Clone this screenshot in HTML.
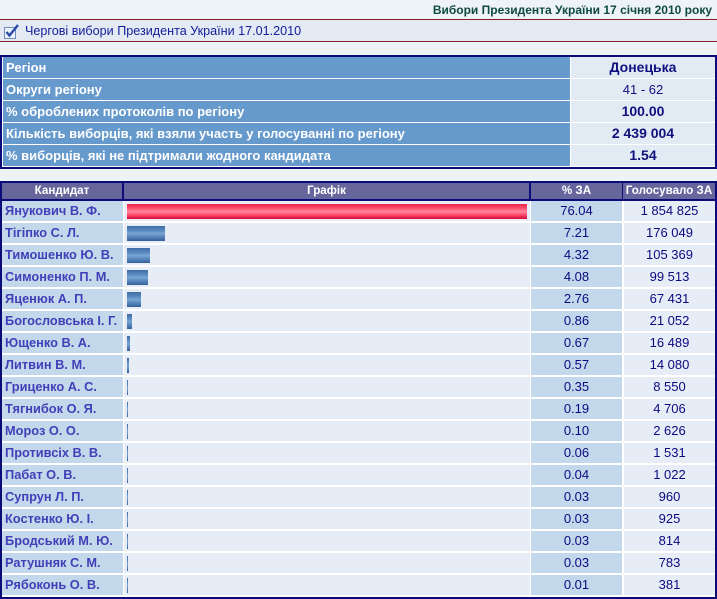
<!DOCTYPE html>
<html><head><meta charset="utf-8">
<style>
*{margin:0;padding:0;box-sizing:border-box}
html,body{width:717px;height:599px;overflow:hidden;background:#eef3f8;font-family:"Liberation Sans","DejaVu Sans",sans-serif}
.abs{position:absolute}
#title{position:absolute;right:5px;top:3px;font-size:12px;font-weight:bold;color:#0f4a42;white-space:nowrap;line-height:14px}
#bar{position:absolute;left:0;top:19px;width:717px;height:23px;border-top:1px solid #8a1c22;border-bottom:1px solid #8a1c22;background:#e4eaf3}
#bar .t{position:absolute;left:25px;top:3px;font-size:12.6px;color:#14209a;line-height:16px;white-space:nowrap}
#info{position:absolute;left:0;top:55px;width:717px;height:114px;border:2px solid #0c0c78;background:#fff}
.il{position:absolute;left:1px;width:567px;height:21px;background:#6699cc;color:#fff;font-weight:bold;font-size:13px;line-height:21px;padding-left:3px;white-space:nowrap}
.ir{position:absolute;left:569px;width:144px;height:21px;background:#e2eaf4;color:#10107e;text-align:center;font-size:14px;font-weight:bold;line-height:21px}
#cand{position:absolute;left:0;top:181px;width:717px;height:418px;border:2px solid #0c0c78;background:#fff}
#hdr{position:absolute;left:0;top:0;width:713px;height:18px;background:#0c0c78}
.h{position:absolute;top:0;height:16px;background:#66669c;color:#fff;font-weight:bold;font-size:11.6px;line-height:16px;text-align:center;white-space:nowrap}
.r{position:absolute;left:0;width:713px;height:20px}
.c{position:absolute;top:0;height:20px;line-height:20px;white-space:nowrap}
.n{left:0;width:121px;background:#c4d8ec;color:#4040b8;font-weight:bold;font-size:12.8px;padding-left:3px}
.g{left:122px;width:406px;background:#e7edf6}
.p{left:529px;width:91px;background:#c4d8ec;text-align:center;color:#0a0a80;font-size:13px}
.v{left:622px;width:91px;background:#e7edf6;text-align:center;color:#0a0a80;font-size:13px}
.b{position:absolute;left:3px;top:3px;height:15px;background:linear-gradient(#3f6da6,#5e8ec4 35%,#7aa6d2 50%,#5a8ac0 70%,#35609a)}
.red{background:linear-gradient(#f0204a,#ff5c78 35%,#ff8aa0 50%,#ff5070 70%,#d8083a)}
</style></head><body>
<div id="title">Вибори Президента України 17 січня 2010 року</div>
<div id="bar">
<svg class="abs" style="left:3px;top:3px" width="18" height="16" viewBox="0 0 18 16">
<rect x="1.5" y="4.5" width="11" height="11" fill="#eef2fa" stroke="#6f8fc0"/>
<path d="M3.5 9 L6.5 12.5 L15 2" fill="none" stroke="#2a4aa8" stroke-width="2.4"/>
</svg>
<div class="t">Чергові вибори Президента України 17.01.2010</div>
</div>

<div id="info">
<div class="il" style="top:0">Регіон</div><div class="ir" style="top:0">Донецька</div>
<div class="il" style="top:22px">Округи регіону</div><div class="ir" style="top:22px;font-weight:normal;font-size:13px">41 - 62</div>
<div class="il" style="top:44px">% оброблених протоколів по регіону</div><div class="ir" style="top:44px">100.00</div>
<div class="il" style="top:66px">Кількість виборців, які взяли участь у голосуванні по регіону</div><div class="ir" style="top:66px">2 439 004</div>
<div class="il" style="top:88px">% виборців, які не підтримали жодного кандидата</div><div class="ir" style="top:88px">1.54</div>
</div>

<div id="cand">
<div id="hdr">
<div class="h" style="left:0;width:120px">Кандидат</div>
<div class="h" style="left:122px;width:405px">Графік</div>
<div class="h" style="left:529px;width:91px">% ЗА</div>
<div class="h" style="left:621px;width:92px">Голосувало ЗА</div>
</div>
<div class="r" style="top:18px"><div class="c n">Янукович В. Ф.</div><div class="c g"><div class="b red" style="width:400px"></div></div><div class="c p">76.04</div><div class="c v">1 854 825</div></div>
<div class="r" style="top:40px"><div class="c n">Тігіпко С. Л.</div><div class="c g"><div class="b" style="width:38px"></div></div><div class="c p">7.21</div><div class="c v">176 049</div></div>
<div class="r" style="top:62px"><div class="c n">Тимошенко Ю. В.</div><div class="c g"><div class="b" style="width:23px"></div></div><div class="c p">4.32</div><div class="c v">105 369</div></div>
<div class="r" style="top:84px"><div class="c n">Симоненко П. М.</div><div class="c g"><div class="b" style="width:21px"></div></div><div class="c p">4.08</div><div class="c v">99 513</div></div>
<div class="r" style="top:106px"><div class="c n">Яценюк А. П.</div><div class="c g"><div class="b" style="width:14px"></div></div><div class="c p">2.76</div><div class="c v">67 431</div></div>
<div class="r" style="top:128px"><div class="c n">Богословська І. Г.</div><div class="c g"><div class="b" style="width:5px"></div></div><div class="c p">0.86</div><div class="c v">21 052</div></div>
<div class="r" style="top:150px"><div class="c n">Ющенко В. А.</div><div class="c g"><div class="b" style="width:3px"></div></div><div class="c p">0.67</div><div class="c v">16 489</div></div>
<div class="r" style="top:172px"><div class="c n">Литвин В. М.</div><div class="c g"><div class="b" style="width:2px"></div></div><div class="c p">0.57</div><div class="c v">14 080</div></div>
<div class="r" style="top:194px"><div class="c n">Гриценко А. С.</div><div class="c g"><div class="b" style="width:1px"></div></div><div class="c p">0.35</div><div class="c v">8 550</div></div>
<div class="r" style="top:216px"><div class="c n">Тягнибок О. Я.</div><div class="c g"><div class="b" style="width:1px"></div></div><div class="c p">0.19</div><div class="c v">4 706</div></div>
<div class="r" style="top:238px"><div class="c n">Мороз О. О.</div><div class="c g"><div class="b" style="width:1px"></div></div><div class="c p">0.10</div><div class="c v">2 626</div></div>
<div class="r" style="top:260px"><div class="c n">Противсіх В. В.</div><div class="c g"><div class="b" style="width:1px"></div></div><div class="c p">0.06</div><div class="c v">1 531</div></div>
<div class="r" style="top:282px"><div class="c n">Пабат О. В.</div><div class="c g"><div class="b" style="width:1px"></div></div><div class="c p">0.04</div><div class="c v">1 022</div></div>
<div class="r" style="top:304px"><div class="c n">Супрун Л. П.</div><div class="c g"><div class="b" style="width:1px"></div></div><div class="c p">0.03</div><div class="c v">960</div></div>
<div class="r" style="top:326px"><div class="c n">Костенко Ю. І.</div><div class="c g"><div class="b" style="width:1px"></div></div><div class="c p">0.03</div><div class="c v">925</div></div>
<div class="r" style="top:348px"><div class="c n">Бродський М. Ю.</div><div class="c g"><div class="b" style="width:1px"></div></div><div class="c p">0.03</div><div class="c v">814</div></div>
<div class="r" style="top:370px"><div class="c n">Ратушняк С. М.</div><div class="c g"><div class="b" style="width:1px"></div></div><div class="c p">0.03</div><div class="c v">783</div></div>
<div class="r" style="top:392px"><div class="c n">Рябоконь О. В.</div><div class="c g"><div class="b" style="width:1px"></div></div><div class="c p">0.01</div><div class="c v">381</div></div>
</div>
</body></html>
